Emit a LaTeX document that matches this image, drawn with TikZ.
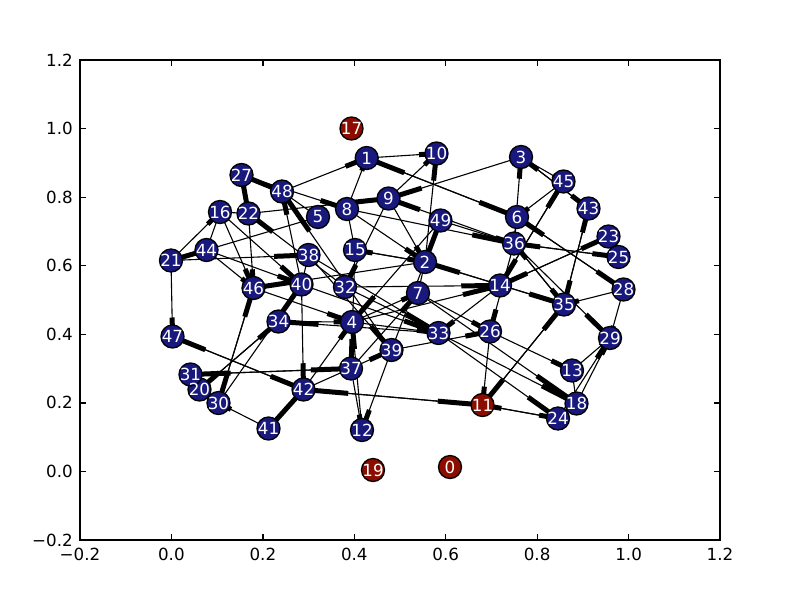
\documentclass[tikz,border=0pt]{standalone}
\usepackage{fontspec}
\setmainfont{DejaVu Sans}
\usetikzlibrary{calc}
\pgfdeclarelayer{background}
\pgfsetlayers{background,main}
\definecolor{nodeblue}{RGB}{24,24,125}
\definecolor{nodered}{RGB}{140,12,0}
\tikzset{
  vert/.style={circle, draw=black, line width=1.3pt, minimum size=23pt, inner sep=0pt},
  lbl/.style={text=white, inner sep=0pt, font=\fontsize{16.7}{16.7}\selectfont},
  thinedge/.style={draw=black, line width=1.1pt},
  thickedge/.style={draw=black, line width=5pt},
  axisline/.style={draw=black, line width=1.3pt},
  tickmark/.style={draw=black, line width=1.2pt},
  ticklbl/.style={inner sep=0pt, font=\fontsize{16.7}{16.7}\selectfont}
}
\begin{document}
\begin{tikzpicture}[x=1pt,y=-1pt]
\useasboundingbox (0,0) rectangle (800,600);
\begin{pgfonlayer}{background}
\fill[white] (0,0) rectangle (800,600);
\end{pgfonlayer}
% vertices
\foreach \i/\px/\py/\c in {
 0/450/467/nodered, 1/366.7/158/nodeblue, 2/425/262/nodeblue, 3/521/157/nodeblue,
 4/352/322/nodeblue, 5/318/217/nodeblue, 6/517/217/nodeblue, 7/418/293/nodeblue,
 8/347/209/nodeblue, 9/388.5/198.5/nodeblue, 10/436.5/153.5/nodeblue, 11/482.5/405/nodered,
 12/362/430/nodeblue, 13/572/370.5/nodeblue, 14/500/285.5/nodeblue, 15/355/250/nodeblue,
 16/220/212/nodeblue, 17/351.5/128.5/nodered, 18/576.5/403.5/nodeblue, 19/373/470/nodered,
 20/199.5/389.5/nodeblue, 21/171/260.5/nodeblue, 22/248.5/213.5/nodeblue, 23/608.5/236.5/nodeblue,
 24/558/418.5/nodeblue, 25/618.5/257/nodeblue, 26/490/331.5/nodeblue, 27/241.5/175/nodeblue,
 28/623.5/289.5/nodeblue, 29/610/338/nodeblue, 30/218.5/403/nodeblue, 31/190.5/374.5/nodeblue,
 32/345/287/nodeblue, 33/438.5/333/nodeblue, 34/278.5/321.5/nodeblue, 35/564/304.5/nodeblue,
 36/514/243.5/nodeblue, 37/351/368.5/nodeblue, 38/308.5/255/nodeblue, 39/391.5/350/nodeblue,
 40/301.5/284.5/nodeblue, 41/268.5/428.5/nodeblue, 42/303.5/389.5/nodeblue, 43/588.5/208.5/nodeblue,
 44/206.5/250/nodeblue, 45/563.5/181.5/nodeblue, 46/253.5/288/nodeblue, 47/172.5/336.5/nodeblue,
 48/282/191.5/nodeblue, 49/440.5/220.5/nodeblue}
 { \node[vert, fill=\c] (n\i) at (\px,\py) {}; }
\foreach \i in {0,...,49} { \node[lbl] (l\i) at (n\i) {\i}; }
% edges
\begin{pgfonlayer}{background}
\foreach \ea/\eb/\ef in {
 21/47/0.25, 47/42/0.25, 42/47/0.25, 37/31/0.25, 31/37/0.25, 46/30/0.25, 30/46/0.25,
 41/30/0.25, 20/34/0.25, 34/20/0.25, 41/42/1, 48/1/0.25, 8/1/0.25, 1/10/0.25, 1/6/0.25,
 6/1/0.25, 9/10/0.25, 2/10/0.25, 3/9/0.25, 36/3/0.25, 43/3/0.25, 3/43/0.25, 45/6/0.25,
 14/45/0.25, 45/14/0.25, 35/43/0.25, 43/35/0.25, 14/23/0.25, 23/14/0.25, 23/25/0.25,
 36/25/0.25, 25/36/0.25, 6/28/0.25, 28/6/0.25, 28/35/0.25, 28/29/0.25, 36/35/0.25,
 35/36/0.25, 36/29/0.25, 8/36/0.25, 49/36/0.25, 36/9/0.25, 39/49/0.25, 27/48/1, 27/22/1,
 16/22/0.25, 16/44/0.25, 16/46/0.25, 22/46/0.25, 32/22/0.25, 40/48/0.25, 39/48/0.25,
 22/9/0.25, 27/8/0.25, 5/21/0.25, 44/40/0.25, 21/38/0.25, 2/46/0.25, 30/40/0.25, 34/4/0.25,
 33/34/0.25, 40/42/0.25, 11/42/0.25, 42/11/0.25, 42/4/0.25, 37/12/0.25, 39/12/0.25,
 12/4/0.25, 15/37/0.25, 4/33/0.25, 32/33/0.25, 33/24/0.25, 26/13/0.25, 7/18/0.25,
 26/11/0.25, 11/35/0.25, 35/11/0.25, 11/24/0.25, 24/11/0.25, 13/29/0.25, 18/29/0.25,
 24/29/0.25, 13/18/0.25, 36/26/0.25, 2/35/0.25, 35/2/0.25, 32/14/0.25, 14/33/0.25,
 4/14/0.25, 15/2/0.25, 2/15/0.25, 8/15/0.25, 38/33/0.25, 40/33/0.25, 4/7/0.25, 38/39/0.25,
 39/26/0.25, 42/39/0.25, 37/7/0.25, 9/2/0.25, 8/2/0.25, 7/26/0.25, 33/18/0.25, 44/46/0.25,
 16/40/0.25, 21/16/0.25, 48/5/0.25, 2/7/0.25, 49/4/0.25, 6/36/0.25, 9/32/0.25, 38/40/0.25,
 46/4/0.25, 3/45/0.25}
 {
  \pgfmathsetmacro\eg{1-\ef}
  \draw[thinedge] (n\ea.center) -- (n\eb.center);
  \draw[thickedge] ($(n\ea.center)!\eg!(n\eb.center)$) -- (n\eb.center);
 }
\end{pgfonlayer}
% axes
\draw[axisline] (80,60) rectangle (720,540);
\foreach \v/\px in {−0.2/80, 0.0/171.4, 0.2/262.9, 0.4/354.3, 0.6/445.7, 0.8/537.1, 1.0/628.6, 1.2/720}
 {
  \draw[tickmark] (\px,540) -- ++(0,-5.6);
  \draw[tickmark] (\px,60) -- ++(0,5.6);
  \node[ticklbl, anchor=base] at (\px,560) {\v};
 }
\foreach \v/\py in {−0.2/540, 0.0/471.4, 0.2/402.9, 0.4/334.3, 0.6/265.7, 0.8/197.1, 1.0/128.6, 1.2/60}
 {
  \draw[tickmark] (80,\py) -- ++(5.6,0);
  \draw[tickmark] (720,\py) -- ++(-5.6,0);
  \node[ticklbl, anchor=base east] at (73,\py+6) {\v};
 }
\end{tikzpicture}
\end{document}
